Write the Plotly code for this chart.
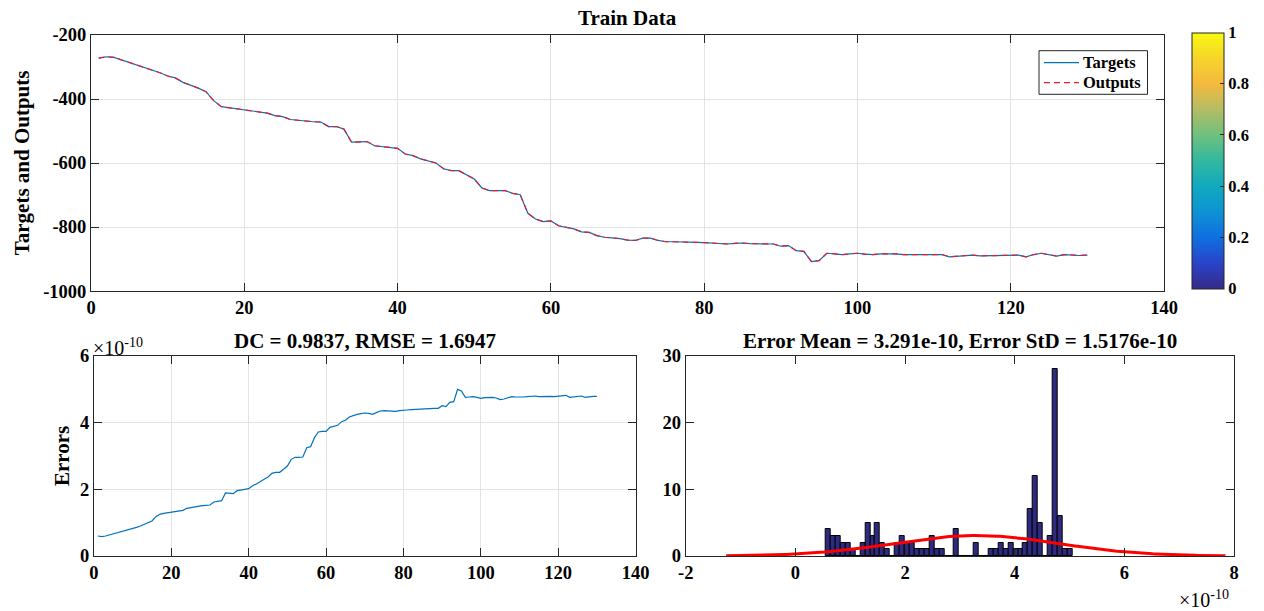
import numpy as np
import plotly.graph_objects as go

# ---------------- data ----------------
sample = list(range(1, 131))

targets = [
    -272, -268, -270, -278, -285, -292, -302, -310, -318, -328,
    -334, -348, -356, -366, -377, -405, -424, -427, -430, -434,
    -437, -440, -444, -452, -455, -464, -467, -470, -471, -472,
    -486, -486, -494, -535, -534, -533, -546, -548, -551, -554,
    -572, -577, -587, -594, -600, -618, -624, -624, -637, -650,
    -678, -686, -686, -686, -695, -699, -757, -775, -783, -781,
    -796, -801, -806, -815, -817, -827, -832, -834, -836, -841,
    -842, -835, -835, -842, -846, -846, -846, -847, -848, -849,
    -850, -852, -853, -851, -850, -852, -853, -853, -853, -860,
    -858, -874, -876, -908, -905, -882, -885, -886, -884, -882,
    -885, -886, -884, -883, -884, -886, -886, -885, -886, -886,
    -886, -893, -891, -889, -888, -890, -890, -890, -889, -889,
    -888, -893, -886, -882, -887, -891, -886, -888, -889, -888,
]

outputs = [
    -272, -268, -270, -278, -285, -292, -302, -310, -318, -328,
    -334, -348, -356, -366, -377, -405, -424, -427, -430, -434,
    -437, -440, -444, -452, -455, -464, -467, -470, -471, -472,
    -486, -486, -494, -535, -534, -533, -546, -548, -551, -554,
    -572, -577, -587, -594, -600, -618, -624, -624, -637, -650,
    -678, -686, -686, -686, -695, -699, -757, -775, -783, -781,
    -796, -801, -806, -815, -817, -827, -832, -834, -836, -841,
    -842, -835, -835, -842, -846, -846, -846, -847, -848, -849,
    -850, -852, -853, -851, -850, -852, -853, -853, -853, -860,
    -858, -874, -876, -908, -905, -882, -885, -886, -884, -882,
    -885, -886, -884, -883, -884, -886, -886, -885, -886, -886,
    -886, -893, -891, -889, -888, -890, -890, -890, -889, -889,
    -888, -893, -886, -882, -887, -891, -886, -888, -889, -888,
]

# errors in units of 1e-10
errors_e10 = [
    0.60, 0.58, 0.60, 0.63, 0.66, 0.70, 0.73, 0.77, 0.80, 0.82,
    0.86, 0.90, 0.95, 1.00, 1.05, 1.18, 1.25, 1.28, 1.30, 1.32,
    1.33, 1.35, 1.37, 1.43, 1.45, 1.49, 1.50, 1.51, 1.52, 1.53,
    1.62, 1.63, 1.66, 1.89, 1.88, 1.87, 1.96, 1.97, 2.00, 2.02,
    2.11, 2.16, 2.24, 2.30, 2.37, 2.48, 2.51, 2.51, 2.60, 2.70,
    2.90, 2.96, 2.96, 2.97, 3.25, 3.28, 3.55, 3.72, 3.74, 3.74,
    3.86, 3.89, 3.92, 4.03, 4.07, 4.17, 4.22, 4.25, 4.27, 4.29,
    4.28, 4.25, 4.30, 4.35, 4.36, 4.35, 4.34, 4.34, 4.36, 4.38,
    4.38, 4.39, 4.40, 4.41, 4.42, 4.42, 4.42, 4.43, 4.43, 4.51,
    4.48, 4.61, 4.63, 5.00, 4.95, 4.76, 4.77, 4.78, 4.76, 4.73,
    4.75, 4.76, 4.76, 4.74, 4.69, 4.71, 4.74, 4.78, 4.77, 4.76,
    4.77, 4.78, 4.79, 4.80, 4.78, 4.79, 4.79, 4.79, 4.78, 4.79,
    4.80, 4.82, 4.76, 4.77, 4.78, 4.80, 4.76, 4.78, 4.79, 4.79,
]

hist_counts = [
    4, 3, 3, 2, 2, 1, 0, 2, 5, 3,
    5, 2, 1, 0, 2, 3, 2, 2, 1, 1,
    1, 3, 1, 1, 0, 0, 4, 0, 0, 0,
    2, 0, 0, 1, 1, 2, 1, 2, 1, 1,
    2, 7, 12, 5, 0, 3, 28, 6, 1, 1,
]
hist_range_e10 = [0.555, 5.055]   # span of the 50 bins (x 1e-10)

err_mean = 3.291e-10
err_std = 1.5176e-10
dc_value = 0.9837
rmse_value = 1.6947

top_yticks = [-1000, -800, -600, -400, -200]
hist_xticks = [-2, 0, 2, 4, 6, 8]
cbar_ticks = [0, 0.2, 0.4, 0.6, 0.8, 1]

# ---------------- derived ----------------
nb = len(hist_counts)
bw = (hist_range_e10[1] - hist_range_e10[0]) / nb
centers = [hist_range_e10[0] + bw * (i + 0.5) for i in range(nb)]
mu = err_mean * 1e10
sd = err_std * 1e10
xf = np.linspace(mu - 3 * sd, mu + 3 * sd, 200)
yf = len(errors_e10) * bw * np.exp(-0.5 * ((xf - mu) / sd) ** 2) / (sd * np.sqrt(2 * np.pi))

parula = [
    [0.0, "#352a87"], [0.1, "#2a43c8"], [0.2, "#0f6fe0"], [0.3, "#0d92d3"],
    [0.4, "#10a9c0"], [0.5, "#32b8a0"], [0.6, "#6fc07f"], [0.7, "#b2bd64"],
    [0.8, "#f4b93d"], [0.9, "#f6d42c"], [1.0, "#f9fa10"],
]

FONT = "Liberation Serif"
AX = "#262626"
GRID = "#e3e3e3"
BLUE = "#0072BD"
RED = "rgb(225,30,50)"

# pixel -> paper helpers (margins l=91, t=35, width 1143, height 521)
def px(xp):
    return (xp - 91) / 1143.0

def py(yp):
    return (556 - yp) / 521.0

fig = go.Figure()

fig.add_trace(go.Scatter(x=sample, y=targets, mode="lines", name="Targets", showlegend=False,
                         line=dict(color=BLUE, width=1.2), xaxis="x", yaxis="y"))
fig.add_trace(go.Scatter(x=sample, y=outputs, mode="lines", name="Outputs", showlegend=False,
                         line=dict(color=RED, width=1.2, dash="6px,4px"),
                         xaxis="x", yaxis="y"))
# colorbar carrier
fig.add_trace(go.Scatter(x=[-50], y=[-1500], mode="markers", showlegend=False,
                         hoverinfo="skip", xaxis="x", yaxis="y",
                         marker=dict(color=[0.5], colorscale=parula, cmin=0, cmax=1,
                                     opacity=0, showscale=True,
                                     colorbar=dict(
                                         x=0.963, xanchor="left", xpad=0,
                                         y=0.5134, yanchor="bottom", ypad=0,
                                         thickness=32, lenmode="pixels", len=256,
                                         outlinecolor=AX, outlinewidth=1,
                                         tickvals=cbar_ticks,
                                         ticktext=[f"{v:g}" for v in cbar_ticks],
                                         ticks="inside", ticklen=4, tickcolor=AX,
                                         tickfont=dict(family=FONT, size=16.5, color="black", weight="bold"),
                                     ))))

fig.add_trace(go.Scatter(x=sample, y=errors_e10, mode="lines", showlegend=False,
                         line=dict(color=BLUE, width=1.2), xaxis="x2", yaxis="y2"))

fig.add_trace(go.Bar(x=centers, y=hist_counts, width=bw, showlegend=False,
                     marker=dict(color="rgb(46,42,128)", line=dict(color="black", width=1)),
                     xaxis="x3", yaxis="y3"))
fig.add_trace(go.Scatter(x=xf, y=yf, mode="lines", showlegend=False,
                         line=dict(color="#ff0000", width=3), xaxis="x3", yaxis="y3"))

tickfont = dict(family=FONT, size=18.5, color="black", weight="bold")
common = dict(showline=True, linecolor=AX, linewidth=1, mirror="ticks", ticks="inside",
              ticklen=8, tickcolor=AX, zeroline=False, tickfont=tickfont)

fig.update_layout(
    width=1264, height=611,
    margin=dict(l=91, r=30, t=35, b=55, autoexpand=False),
    paper_bgcolor="white", plot_bgcolor="white",
    font=dict(family=FONT, size=16, color="black"),
    bargap=0,
    showlegend=False,
    xaxis=dict(domain=[0, 0.9388], range=[0, 140], dtick=20, anchor="y",
               showgrid=True, gridcolor=GRID, **common),
    yaxis=dict(domain=[0.5086, 1], range=[-1000, -200], anchor="x",
               tickvals=top_yticks, ticktext=[str(v) for v in top_yticks],
               showgrid=True, gridcolor=GRID, **common),
    xaxis2=dict(domain=[0.0026, 0.4764], range=[0, 140], dtick=20, anchor="y2",
                showgrid=True, gridcolor=GRID, **common),
    yaxis2=dict(domain=[0, 0.3839], range=[0, 6], dtick=2, anchor="x2",
                showgrid=True, gridcolor=GRID, **common),
    xaxis3=dict(domain=[0.5203, 1], range=[-2, 8], anchor="y3",
                tickvals=hist_xticks, ticktext=[str(v) for v in hist_xticks],
                showgrid=False, **common),
    yaxis3=dict(domain=[0, 0.3839], range=[0, 30], dtick=10, anchor="x3",
                showgrid=False, **common),
)

# legend (drawn as a MATLAB-style box)
fig.add_shape(type="rect", xref="paper", yref="paper",
              x0=px(1039), x1=px(1147.5), y0=py(94.3), y1=py(50.7),
              line=dict(color=AX, width=1), fillcolor="white", layer="above")
fig.add_shape(type="line", xref="paper", yref="paper",
              x0=px(1044), x1=px(1079), y0=py(62.7), y1=py(62.7),
              line=dict(color=BLUE, width=1.2), layer="above")
fig.add_shape(type="line", xref="paper", yref="paper",
              x0=px(1044), x1=px(1079), y0=py(82.7), y1=py(82.7),
              line=dict(color=RED, width=1.2, dash="6px,4px"), layer="above")
leg_font = dict(family=FONT, size=16.5, color="black", weight="bold")
for name, yp in (("Targets", 62.7), ("Outputs", 82.7)):
    fig.add_annotation(text=name, x=px(1081), y=py(yp), xref="paper", yref="paper",
                       showarrow=False, font=leg_font, xanchor="left", yanchor="middle")

title_font = dict(family=FONT, size=21, color="black", weight="bold")
fig.add_annotation(text="Train Data", x=0.469, y=1.0326, xref="paper", yref="paper",
                   showarrow=False, font=title_font, xanchor="center", yanchor="middle")
fig.add_annotation(text=f"DC = {dc_value}, RMSE = {rmse_value}", x=0.2395, y=0.413,
                   xref="paper", yref="paper", showarrow=False, font=title_font,
                   xanchor="center", yanchor="middle")
fig.add_annotation(text=f"Error Mean = {err_mean:.4g}, Error StD = {err_std:.5g}",
                   x=0.7600, y=0.413, xref="paper", yref="paper", showarrow=False,
                   font=title_font, xanchor="center", yanchor="middle")
fig.add_annotation(text="Targets and Outputs", x=-0.0601, y=0.7543, xref="paper", yref="paper",
                   showarrow=False, textangle=-90, font=title_font,
                   xanchor="center", yanchor="middle")
fig.add_annotation(text="Errors", x=-0.0253, y=0.192, xref="paper", yref="paper",
                   showarrow=False, textangle=-90, font=title_font,
                   xanchor="center", yanchor="middle")
expo_font = dict(family=FONT, size=20, color="black")
fig.add_annotation(text="×10<sup>-10</sup>", x=0.0, y=0.402, xref="paper", yref="paper",
                   showarrow=False, font=expo_font, xanchor="left", yanchor="middle")
fig.add_annotation(text="×10<sup>-10</sup>", x=0.950, y=-0.0045, xref="paper", yref="paper",
                   showarrow=False, font=expo_font, xanchor="left", yanchor="top", yshift=-27)

fig.write_html("out.html", config={"displayModeBar": False},
               post_script="document.body.style.margin='0';")
